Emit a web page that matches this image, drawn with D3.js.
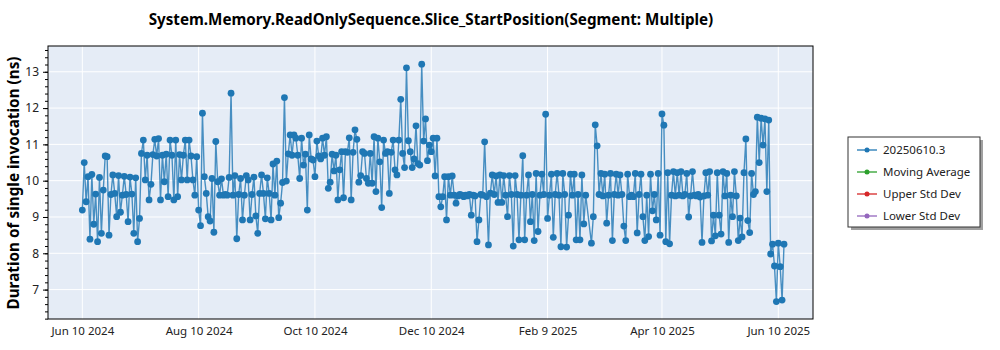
<!DOCTYPE html>
<html><head><meta charset="utf-8">
<script src="https://cdn.jsdelivr.net/npm/d3@7"></script>
<style>
body{margin:0;background:#fff;}
svg{display:block;font-family:"Segoe UI","Noto Sans","Open Sans",sans-serif;}
</style></head>
<body><svg id="c" width="1000" height="350"></svg>
<script>
const chartTitle = "System.Memory.ReadOnlySequence.Slice_StartPosition(Segment: Multiple)";
const yTitle = "Duration of single invocation (ns)";
const seriesNames = ["20250610.3", "Moving Average", "Upper Std Dev", "Lower Std Dev"];
const seriesColors = ["#1f77b4", "#2ca02c", "#d62728", "#9467bd"];
const firstDay = "2024-06-10";
const xTicks = ["2024-06-10", "2024-08-10", "2024-10-10", "2024-12-10", "2025-02-09", "2025-04-10", "2025-06-10"];
const yTicks = [7, 8, 9, 10, 11, 12, 13];
// one value per day starting at firstDay; null = no run that day
const values = [
 9.19,10.50,9.42,10.11,8.39,10.17,8.80,9.63,8.32,10.09,8.55,9.74,10.68,10.66,8.50,
 9.62,10.16,9.65,9.01,10.14,9.13,9.60,10.12,9.62,8.87,10.10,9.63,8.55,10.08,8.32,8.96,
 10.75,11.12,10.02,10.70,9.47,9.90,10.72,11.14,10.68,11.16,9.47,10.70,9.97,10.73,9.56,
 11.12,10.70,9.47,11.12,9.56,10.72,10.02,10.70,11.12,10.02,11.12,10.68,10.02,9.60,10.66,
 9.19,8.76,11.86,10.11,9.65,9.01,8.89,10.06,8.58,11.08,9.97,9.60,10.05,9.60,9.62,
 9.60,10.09,12.41,9.60,10.14,8.40,9.62,10.06,8.92,9.60,10.14,10.02,8.92,9.62,10.10,9.03,
 8.55,9.65,10.16,9.65,8.95,10.08,9.65,8.92,10.46,9.60,10.54,8.98,9.38,
 9.95,12.29,9.99,10.74,11.26,10.70,11.26,11.17,10.70,10.06,11.17,10.43,10.73,9.19,11.26,10.60,10.57,
 10.11,11.09,10.68,10.60,11.17,10.70,11.21,9.79,9.96,10.73,10.27,10.70,9.47,10.30,10.80,9.53,
 10.80,10.78,11.18,9.47,10.78,11.40,11.14,9.96,10.14,10.80,10.75,10.06,9.93,10.75,
 9.93,11.21,9.70,11.17,10.52,9.26,11.12,10.75,10.80,9.65,10.78,11.12,10.30,10.16,11.12,12.24,
 10.75,10.36,13.11,11.10,10.80,10.36,10.60,11.51,10.47,10.43,13.21,11.09,11.70,10.55,10.98,10.80,11.17,
 10.13,11.17,9.56,9.28,9.56,10.11,8.92,10.11,9.60,10.13,9.60,9.38,9.58,9.62,9.60,9.56,9.60,
 9.58,9.62,9.05,9.60,9.58,8.32,8.92,9.62,9.60,11.07,9.56,8.23,9.66,10.16,9.62,10.13,9.40,
 10.16,9.40,10.14,9.60,9.01,10.14,9.62,8.20,10.14,9.62,8.37,9.60,10.69,8.37,
 9.60,10.16,8.87,9.62,8.35,10.20,8.60,9.60,10.18,9.62,11.83,8.96,9.60,10.18,8.44,9.62,
 10.20,9.60,8.18,10.20,9.62,8.17,9.05,10.18,9.60,10.18,8.37,9.62,8.37,10.16,8.81,9.60,
 null,null,8.28,9.01,11.54,10.96,9.62,10.20,9.58,10.18,8.83,9.60,10.20,8.35,9.62,10.18,
 9.60,10.16,9.62,8.75,8.35,10.18,9.56,9.60,9.56,10.20,8.56,9.62,10.18,9.01,8.35,9.60,
 8.46,10.18,9.17,9.62,8.92,10.20,8.50,11.84,11.53,8.32,
 10.22,8.26,9.60,10.25,9.58,10.22,9.60,10.25,9.58,9.62,10.20,9.00,9.58,10.25,9.60,9.58,
 9.62,9.55,8.30,9.58,10.22,9.60,10.25,8.34,9.05,8.48,10.22,9.05,8.53,10.25,9.58,10.20,
 8.30,9.60,9.01,10.25,9.58,8.35,8.97,8.45,10.22,11.15,8.90,8.57,10.20,9.62,9.70,
 11.75,10.50,11.72,10.98,11.70,9.70,11.67,7.98,8.25,7.65,6.67,8.28,7.63,6.71,8.25
];

const parse = d3.timeParse("%Y-%m-%d");
const t0 = parse(firstDay);
const data = values.map((v, i) => ({date: d3.timeDay.offset(t0, i), value: v})).filter(d => d.value !== null);

const svg = d3.select("#c");
const L = 48, R = 813, T = 46, B = 319;
const x = d3.scaleTime().domain([new Date(2024, 4, 23), new Date(2025, 5, 28, 5)]).range([L, R]);
const y = d3.scaleLinear().domain([6.19, 13.71]).range([B, T]);

svg.append("rect").attr("x", L).attr("y", T).attr("width", R - L).attr("height", B - T).attr("fill", "#e5ecf6");

const grid = svg.append("g");
grid.selectAll("line.v").data(xTicks.map(parse)).join("line")
  .attr("x1", d => x(d)).attr("x2", d => x(d)).attr("y1", T).attr("y2", B)
  .attr("stroke", "#fff").attr("stroke-width", 1);
grid.selectAll("line.h").data(yTicks).join("line")
  .attr("x1", L).attr("x2", R).attr("y1", d => y(d)).attr("y2", d => y(d))
  .attr("stroke", "#fff").attr("stroke-width", 1);

// series
const line = d3.line().x(d => x(d.date)).y(d => y(d.value));
svg.append("path").datum(data).attr("d", line).attr("fill", "none")
  .attr("stroke", seriesColors[0]).attr("stroke-width", 1.4).attr("stroke-opacity", 0.8);
svg.append("g").selectAll("circle").data(data).join("circle")
  .attr("cx", d => x(d.date)).attr("cy", d => y(d.value)).attr("r", 3.4)
  .attr("fill", seriesColors[0]);

// border
svg.append("rect").attr("x", L).attr("y", T).attr("width", R - L).attr("height", B - T)
  .attr("fill", "none").attr("stroke", "#000").attr("stroke-width", 1);

// y axis
const minor = d3.range(6.2, 13.71, 0.2).map(v => +v.toFixed(1));
const yAx = svg.append("g").attr("transform", `translate(${L},0)`);
yAx.call(d3.axisLeft(y).tickValues(minor).tickSize(3).tickFormat(""));
yAx.call(g => g.select(".domain").remove());
const yMaj = svg.append("g").attr("transform", `translate(${L},0)`)
  .call(d3.axisLeft(y).tickValues(yTicks).tickSize(5).tickPadding(4).tickFormat(d3.format("d")));
yMaj.select(".domain").remove();
yMaj.selectAll("text").attr("font-size", 12).attr("fill", "#222").style("font-family", "Noto Sans, sans-serif");
svg.selectAll(".tick line").attr("stroke", "#000");

// x axis
const xAx = svg.append("g").attr("transform", `translate(0,${B})`)
  .call(d3.axisBottom(x).tickValues(xTicks.map(parse)).tickSize(0).tickPadding(8).tickFormat(d3.timeFormat("%b %-d %Y")));
xAx.select(".domain").remove();
xAx.selectAll("text").attr("font-size", 11.5).attr("fill", "#222").style("font-family", "Noto Sans, sans-serif");

// titles
svg.append("text").attr("x", 431).attr("y", 25).attr("text-anchor", "middle")
  .attr("font-weight", "bold").attr("font-size", 15.2).style("font-family", "Noto Sans, sans-serif").text(chartTitle);
svg.append("text").attr("transform", "translate(19,183) rotate(-90)").attr("text-anchor", "middle")
  .attr("font-weight", "bold").attr("font-size", 15.3).style("font-family", "Noto Sans, sans-serif").text(yTitle);

// legend
const lg = svg.append("g").attr("transform", "translate(848,137)");
lg.append("rect").attr("x", 3).attr("y", 3).attr("width", 132).attr("height", 90).attr("fill", "#a0a0a0");
lg.append("rect").attr("x", 0).attr("y", 0).attr("width", 132).attr("height", 90).attr("fill", "#fff").attr("stroke", "#333");
const items = lg.selectAll("g.it").data(seriesNames).join("g").attr("transform", (d, i) => `translate(0,${13 + i * 22})`);
items.append("line").attr("x1", 9).attr("x2", 29).attr("stroke", (d, i) => seriesColors[i]).attr("stroke-width", 1.3);
items.append("circle").attr("cx", 19).attr("r", 2.5).attr("fill", (d, i) => seriesColors[i]);
items.append("text").attr("x", 35).attr("dy", "0.35em").attr("font-size", 11.5).attr("fill", "#222")
  .style("font-family", "Noto Sans, sans-serif").text(d => d);
</script></body></html>
